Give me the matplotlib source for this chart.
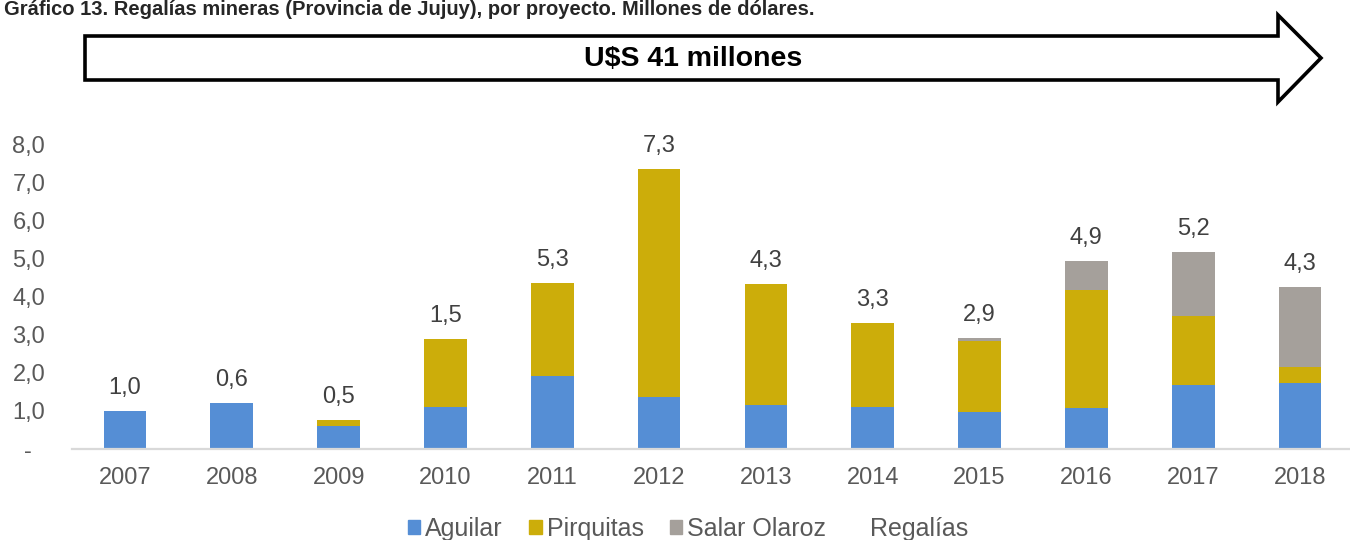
import matplotlib
matplotlib.use("Agg")
import matplotlib.pyplot as plt
from matplotlib.patches import Patch, Polygon
from matplotlib.ticker import FixedLocator, FuncFormatter

plt.rcParams['font.family'] = ['Liberation Sans', 'DejaVu Sans']

# data (millones de dolares)
years = ['2007', '2008', '2009', '2010', '2011', '2012',
         '2013', '2014', '2015', '2016', '2017', '2018']
aguilar = [1.00, 1.21, 0.60, 1.10, 1.92, 1.36, 1.15, 1.10, 0.97, 1.07, 1.68, 1.72]
pirquitas = [0.00, 0.00, 0.16, 1.79, 2.44, 5.99, 3.18, 2.21, 1.86, 3.10, 1.81, 0.44]
salar_olaroz = [0.00, 0.00, 0.00, 0.00, 0.00, 0.00, 0.00, 0.00, 0.08, 0.77, 1.69, 2.10]
regalias = ['1,0', '0,6', '0,5', '1,5', '5,3', '7,3',
            '4,3', '3,3', '2,9', '4,9', '5,2', '4,3']

title = 'Gráfico 13. Regalías mineras (Provincia de Jujuy), por proyecto. Millones de dólares.'
arrow_text = 'U$S 41 millones'

c_aguilar = '#558ED5'
c_pirquitas = '#CCAD0A'
c_olaroz = '#A5A09B'
c_text = '#595959'

W, H = 1350, 540
fig = plt.figure(figsize=(W / 100, H / 100), dpi=100)

# main axes: x from 71.6px, zero line at y=449px, 8,0 at y=144px
ax = fig.add_axes([71.6 / W, (H - 449) / H, (W - 71.6) / W, 305 / H])
x = list(range(len(years)))
bw = 0.4
ax.bar(x, aguilar, bw, color=c_aguilar, label='Aguilar', zorder=2)
ax.bar(x, pirquitas, bw, bottom=aguilar, color=c_pirquitas, label='Pirquitas', zorder=2)
base2 = [a + p for a, p in zip(aguilar, pirquitas)]
ax.bar(x, salar_olaroz, bw, bottom=base2, color=c_olaroz, label='Salar Olaroz', zorder=2)
totals = [b + s for b, s in zip(base2, salar_olaroz)]

# value labels above each stack
for xi, t, lab in zip(x, totals, regalias):
    ax.annotate(lab, (xi, t), xytext=(0, 16.5), textcoords='offset points',
                ha='center', va='center', fontsize=17, color='#404040',
                annotation_clip=False)

ax.set_xlim(-0.5, 11.468)
ax.set_ylim(0, 8)
ax.set_xticks(x)
ax.set_xticklabels(years)
ax.yaxis.set_major_locator(FixedLocator([0, 1, 2, 3, 4, 5, 6, 7, 8]))
ax.yaxis.set_major_formatter(FuncFormatter(
    lambda v, p: '-  ' if v == 0 else f'{v:.1f}'.replace('.', ',')))
ax.tick_params(axis='both', length=0, labelsize=17, labelcolor=c_text)
ax.tick_params(axis='x', pad=13)
ax.tick_params(axis='y', pad=19)
for s in ['top', 'right', 'left']:
    ax.spines[s].set_visible(False)
ax.spines['bottom'].set_color('#D9D9D9')
ax.spines['bottom'].set_linewidth(1.6)
ax.patch.set_alpha(0)

# legend (Regalías has no visible marker)
handles = [Patch(color=c_aguilar), Patch(color=c_pirquitas), Patch(color=c_olaroz),
           Patch(color='none')]
labels = ['Aguilar', 'Pirquitas', 'Salar Olaroz', 'Regalías']
fig.legend(handles, labels, loc='center', bbox_to_anchor=(688 / W, (H - 529) / H),
           ncol=4, frameon=False, fontsize=18, labelcolor=c_text,
           handlelength=0.5, handleheight=0.5, handletextpad=0.2,
           columnspacing=1.05, borderpad=0)

# overlay axes in pixel units for the arrow and title
ov = fig.add_axes([0, 0, 1, 1], zorder=-1)
ov.set_xlim(0, W)
ov.set_ylim(H, 0)
ov.axis('off')
arrow = Polygon([(85, 36), (1278, 36), (1278, 15), (1321, 58), (1278, 102),
                 (1278, 80), (85, 80)], closed=True, facecolor='white',
                edgecolor='black', linewidth=2.6, joinstyle='miter')
ov.add_patch(arrow)
ov.text(693, 59, arrow_text, ha='center', va='center', fontsize=20.5,
        fontweight='bold', color='black')
ov.text(4, 15, title, ha='left', va='baseline', fontsize=14.5,
        fontweight='bold', color='#262626')

fig.savefig('out.png', dpi=100)
